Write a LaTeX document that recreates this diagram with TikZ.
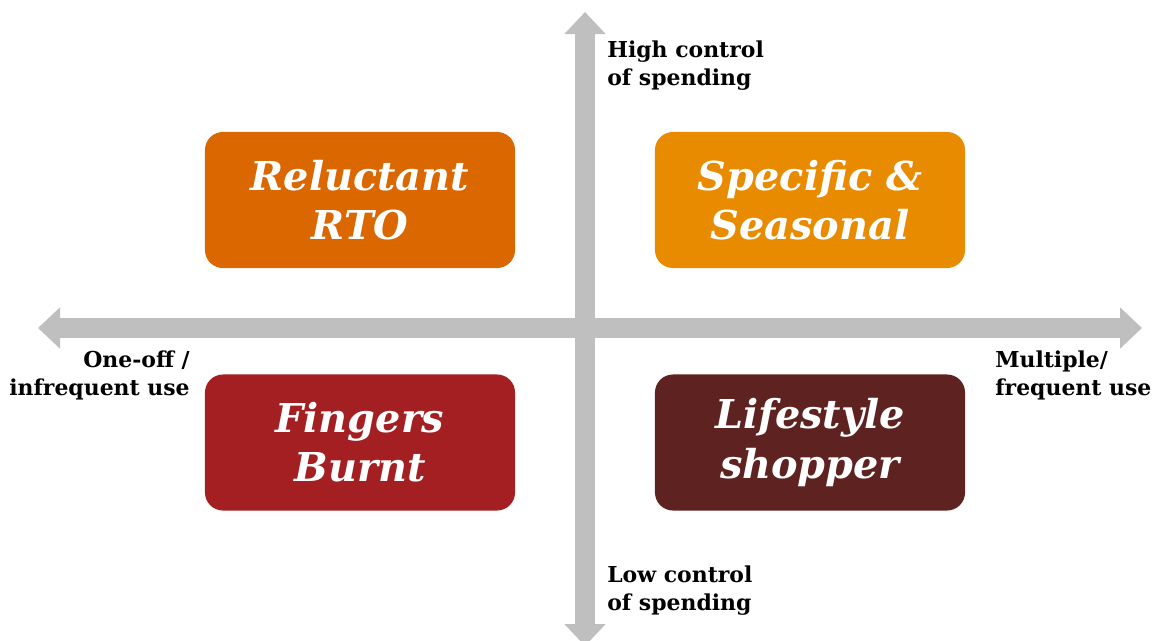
\documentclass[tikz,border=0pt]{standalone}
\usepackage{fontspec}
\setmainfont{DejaVu Serif}
\usetikzlibrary{arrows.meta,positioning}

\definecolor{rtoorange}{RGB}{218,103,0}
\definecolor{seasonorange}{RGB}{233,139,0}
\definecolor{burntred}{RGB}{163,31,34}
\definecolor{shopperbrown}{RGB}{94,34,32}
\definecolor{axisgray}{RGB}{191,191,191}

\tikzset{
    quad/.style={draw=none, rounded corners=0.45cm, minimum width=7.75cm, minimum height=3.4cm,
        text=white, align=center, font=\fontsize{28.3}{35}\selectfont\bfseries\itshape},
    axisline/.style={line width=0.5cm, draw=axisgray,
        {Triangle[width=1cm,length=0.55cm]}-{Triangle[width=1cm,length=0.55cm]}},
    axislabel/.style={inner sep=0pt, font=\fontsize{15.6}{19.9}\selectfont\bfseries}
}

\begin{document}
\begin{tikzpicture}[x=0.025cm, y=-0.025cm]
    \useasboundingbox (0,0) rectangle (1152,640);

    % axes
    \coordinate (west) at (38,328);
    \coordinate (east) at (1142,328);
    \coordinate (north) at (585,12);
    \coordinate (south) at (585,646);
    \draw[axisline] (west) -- (east);
    \draw[axisline] (south) -- (north);

    % quadrants
    \node[quad, fill=rtoorange]     (rto)     at (360,200)   {Reluctant\\RTO};
    \node[quad, fill=seasonorange]  (season)  at (810,200)   {Specific \&\\Seasonal};
    \node[quad, fill=burntred]      (burnt)   at (360,442.5) {Fingers\\Burnt};
    \node[quad, fill=shopperbrown]  (shopper) at (810,442.5) {Lifestyle\\shopper};

    % axis labels
    \node[axislabel, anchor=north west, align=left]  (high)   at (607,41)  {High control\\of spending};
    \node[axislabel, anchor=north west, align=left]  (low)    at (607,566) {Low control\\of spending};
    \node[axislabel, anchor=north east, align=right] (oneoff) at (190,351) {One-off /\\infrequent use};
    \node[axislabel, anchor=north west, align=left]  (multi)  at (995,351) {Multiple/\\frequent use};
\end{tikzpicture}
\end{document}
